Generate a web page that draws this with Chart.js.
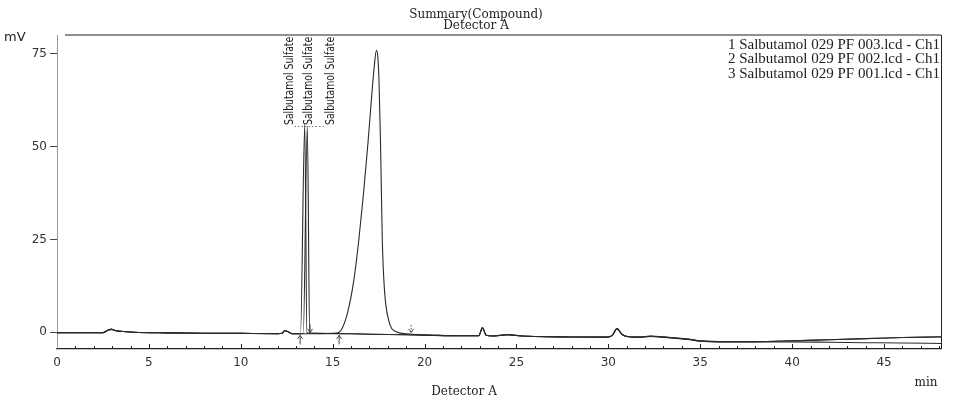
<!DOCTYPE html>
<html><head><meta charset="utf-8">
<script src="https://cdn.jsdelivr.net/npm/chart.js@4/dist/chart.umd.min.js"></script>
<style>html,body{margin:0;padding:0;background:#fff;}#wrap{width:962px;height:405px;position:relative;}</style>
</head><body><div id="wrap"><canvas id="c" width="962" height="405"></canvas></div>
<script>
// ---- text ----
const chartTitle = ["Summary(Compound)", "Detector A"];
const xAxisTitle = "Detector A";
const xUnit = "min";
const yUnit = "mV";
const peakName = "Salbutamol Sulfate";
const legendLabels = [
  "1 Salbutamol 029 PF 003.lcd - Ch1",
  "2 Salbutamol 029 PF 002.lcd - Ch1",
  "3 Salbutamol 029 PF 001.lcd - Ch1"
];
// ---- ticks ----
const xTicks = [0, 5, 10, 15, 20, 25, 30, 35, 40, 45];
const yTicks = [0, 25, 50, 75];
// ---- series 1 ----
const s1Times  = [0, 2.5, 2.8, 2.95, 3.2, 3.6, 4.2, 6, 8, 10, 12, 12.25, 12.4, 12.55, 12.8, 13.25, 13.48, 13.6, 13.9, 16, 18, 20, 22, 22.95, 23.15, 23.35, 23.7, 24.5, 25.3, 26, 28, 29.9, 30.2, 30.47, 30.75, 31.1, 31.7, 32.3, 32.9, 33.6, 34.3, 35, 36, 38, 40, 42, 44, 46, 48.1];
const s1Values = [-0.1, -0.1, 0.7, 0.9, 0.4, 0.2, 0, -0.15, -0.25, -0.3, -0.35, -0.25, 0.5, 0.2, -0.4, -0.4, 56, -0.1, -0.3, -0.4, -0.6, -0.75, -0.95, -0.9, 1.3, -0.8, -1.0, -0.6, -1.0, -1.15, -1.25, -1.3, -0.9, 1.0, -0.6, -1.2, -1.3, -1.0, -1.2, -1.5, -1.8, -2.3, -2.5, -2.5, -2.3, -2.0, -1.7, -1.4, -1.2];
// ---- series 2 ----
const s2Times  = [0, 2.5, 2.8, 2.95, 3.2, 3.6, 4.2, 6, 8, 10, 12, 12.25, 12.4, 12.55, 12.8, 13.4, 13.62, 13.75, 14.0, 16, 18, 20, 22, 22.95, 23.15, 23.35, 23.7, 24.5, 25.3, 26, 28, 29.9, 30.2, 30.47, 30.75, 31.1, 31.7, 32.3, 32.9, 33.6, 34.3, 35, 36, 38, 40, 42, 44, 46, 48.1];
const s2Values = [-0.1, -0.1, 0.6, 0.8, 0.4, 0.2, 0, -0.15, -0.25, -0.3, -0.35, -0.25, 0.45, 0.2, -0.4, -0.4, 55.5, -0.1, -0.3, -0.4, -0.6, -0.75, -0.95, -0.9, 1.2, -0.8, -1.0, -0.7, -1.0, -1.15, -1.25, -1.3, -0.9, 0.9, -0.6, -1.2, -1.2, -1.05, -1.25, -1.5, -1.8, -2.3, -2.5, -2.5, -2.3, -2.0, -1.7, -1.4, -1.25];
// ---- series 3 ----
const s3Times  = [0, 2.5, 2.8, 2.95, 3.2, 3.6, 4.2, 6, 8, 10, 12, 12.25, 12.4, 12.55, 12.8, 14, 15.2, 15.45, 15.8, 16.15, 16.42, 16.68, 16.92, 17.12, 17.26, 17.38, 17.46, 17.52, 17.6, 17.65, 17.7, 17.82, 18.05, 18.42, 19, 20, 22, 22.95, 23.15, 23.35, 23.7, 24.5, 25.3, 26, 28, 29.9, 30.2, 30.47, 30.75, 31.1, 31.7, 32.3, 32.9, 33.6, 34.3, 35, 36, 38, 40, 42, 44, 46, 48.1];
const s3Values = [-0.1, -0.1, 0.6, 0.8, 0.4, 0.2, 0, -0.15, -0.25, -0.3, -0.35, -0.25, 0.4, 0.2, -0.4, -0.4, -0.2, 0.5, 5.1, 14.0, 24.8, 37.5, 51.0, 63.5, 71.5, 76.0, 74, 67.9, 51.8, 38.3, 24.8, 11.3, 3.2, 0.2, -0.4, -0.75, -0.95, -0.9, 1.2, -0.8, -1.0, -0.65, -1.0, -1.15, -1.25, -1.3, -0.9, 1.0, -0.6, -1.2, -1.4, -1.1, -1.3, -1.6, -1.9, -2.4, -2.6, -2.6, -2.6, -2.7, -2.8, -2.9, -3.0];
// ---- peak marks (retention times) ----
const peakLabelTimes = [12.65, 13.7, 14.9];
const upArrowTimes = [13.23, 15.35];
const downArrowTimes = [13.77, 19.27];

function toPts(ts, vs) { return ts.map((t, i) => ({ x: t, y: vs[i] })); }
const lineStyle = { borderColor: '#2a2a2a', borderWidth: 1.1, pointRadius: 0, fill: false, cubicInterpolationMode: 'monotone' };

const decor = {
  id: 'decor',
  afterDraw(chart) {
    const ctx = chart.ctx, xs = chart.scales.x, ys = chart.scales.y, a = chart.chartArea;
    ctx.save();
    ctx.fillStyle = '#222'; ctx.strokeStyle = '#222';
    // title
    ctx.font = '12px "DejaVu Serif"'; ctx.textAlign = 'center'; ctx.textBaseline = 'middle';
    ctx.fillText(chartTitle[0], 476, 15);
    ctx.fillText(chartTitle[1], 476, 26);
    // top & right border
    ctx.lineWidth = 1.2;
    ctx.beginPath(); ctx.moveTo(a.left + 8, a.top); ctx.lineTo(a.right, a.top); ctx.stroke();
    ctx.lineWidth = 1;
    ctx.beginPath(); ctx.moveTo(a.right + 0.5, a.top); ctx.lineTo(a.right + 0.5, a.bottom); ctx.stroke();
    // x ticks inward
    for (let t = 1; t <= 48; t++) {
      const px = Math.round(xs.getPixelForValue(t)) + 0.5;
      const len = (t % 5 === 0) ? 5 : 3;
      ctx.beginPath(); ctx.moveTo(px, a.bottom); ctx.lineTo(px, a.bottom - len); ctx.stroke();
    }
    // y unit
    ctx.font = '13px "DejaVu Sans"'; ctx.textAlign = 'left';
    ctx.fillText(yUnit, 4, 38);
    // x titles
    ctx.font = '12px "DejaVu Serif"'; ctx.textAlign = 'center';
    ctx.fillText(xAxisTitle, 464, 392);
    ctx.fillText(xUnit, 926, 383);
    // legend
    ctx.font = '15px "Liberation Serif"'; ctx.textAlign = 'right';
    legendLabels.forEach((l, i) => ctx.fillText(l, 940, 45 + i * 14.5));
    // peak labels
    const labBottom = 125;
    ctx.font = '12px "Liberation Sans Narrow", "DejaVu Sans Condensed", sans-serif';
    ctx.textAlign = 'left';
    peakLabelTimes.forEach(t => {
      const px = xs.getPixelForValue(t);
      ctx.save(); ctx.translate(px, labBottom); ctx.rotate(-Math.PI / 2); ctx.scale(0.86, 1);
      ctx.fillText(peakName, 0, 0); ctx.restore();
    });
    ctx.setLineDash([1.5, 2]); ctx.strokeStyle = '#777'; ctx.lineWidth = 1;
    ctx.beginPath();
    ctx.moveTo(xs.getPixelForValue(peakLabelTimes[0]) + 5, labBottom + 1.5);
    ctx.lineTo(xs.getPixelForValue(peakLabelTimes[2]) - 5, labBottom + 1.5);
    ctx.stroke();
    ctx.setLineDash([]);
    // arrows
    ctx.strokeStyle = '#333'; ctx.lineWidth = 0.9;
    const base = ys.getPixelForValue(-0.3);
    upArrowTimes.forEach(t => {
      const px = xs.getPixelForValue(t), tip = base + 2;
      ctx.beginPath(); ctx.moveTo(px, tip); ctx.lineTo(px, tip + 9);
      ctx.moveTo(px - 2.5, tip + 3.5); ctx.lineTo(px, tip); ctx.lineTo(px + 2.5, tip + 3.5); ctx.stroke();
    });
    downArrowTimes.forEach((t, i) => {
      const px = xs.getPixelForValue(t), tip = base - 1;
      if (i === 1) ctx.setLineDash([1.5, 1.5]);
      ctx.beginPath(); ctx.moveTo(px, tip); ctx.lineTo(px, tip - 8); ctx.stroke();
      ctx.setLineDash([]);
      ctx.beginPath(); ctx.moveTo(px - 2.5, tip - 3.5); ctx.lineTo(px, tip); ctx.lineTo(px + 2.5, tip - 3.5); ctx.stroke();
    });
    ctx.restore();
  }
};

new Chart(document.getElementById('c'), {
  type: 'line',
  data: {
    datasets: [
      Object.assign({ label: legendLabels[0], data: toPts(s1Times, s1Values) }, lineStyle),
      Object.assign({ label: legendLabels[1], data: toPts(s2Times, s2Values) }, lineStyle),
      Object.assign({ label: legendLabels[2], data: toPts(s3Times, s3Values) }, lineStyle)
    ]
  },
  options: {
    responsive: false, animation: false, devicePixelRatio: 1,
    layout: { padding: { top: 35, right: 21, left: 0, bottom: 0 } },
    plugins: { legend: { display: false }, tooltip: { enabled: false }, title: { display: false } },
    scales: {
      x: {
        type: 'linear', min: 0, max: 48.1,
        afterBuildTicks: s => { s.ticks = xTicks.map(v => ({ value: v })); },
        afterFit: s => { s.height = 56; },
        grid: { drawOnChartArea: false, drawTicks: false },
        border: { display: true, color: '#222', width: 1.3 },
        ticks: { padding: 7, color: '#333', font: { family: 'DejaVu Sans', size: 12 }, maxRotation: 0, autoSkip: false }
      },
      y: {
        type: 'linear', min: -4.5, max: 80.1,
        afterBuildTicks: s => { s.ticks = yTicks.map(v => ({ value: v })); },
        afterFit: s => { s.width = 57; },
        grid: { drawOnChartArea: false, drawTicks: true, tickLength: 7, color: '#444' },
        border: { display: true, color: '#999', dash: [2, 3] },
        ticks: { padding: 3, color: '#333', font: { family: 'DejaVu Sans', size: 12 } }
      }
    }
  },
  plugins: [decor]
});
</script>
</body></html>
